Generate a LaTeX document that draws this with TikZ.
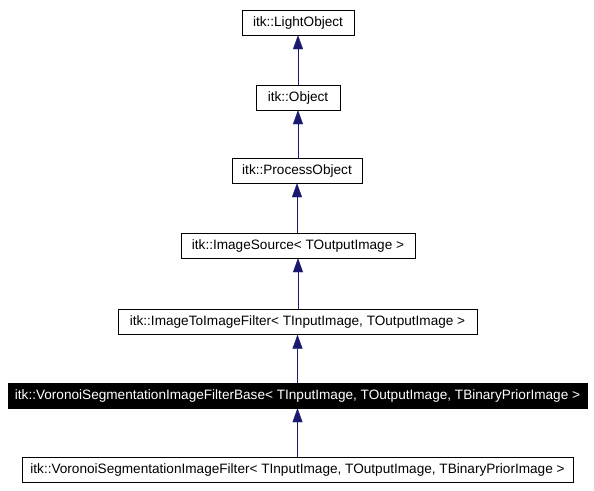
\documentclass[tikz,border=0pt]{standalone}
\usepackage{fontspec}
\setmainfont{Liberation Sans}
\usepackage{tikz}
\usetikzlibrary{arrows.meta}
\definecolor{edgeblue}{RGB}{25,25,112}

\begin{document}
\begin{tikzpicture}[x=1pt,y=-1pt,
  every node/.style={font=\fontsize{13.6}{15}\selectfont},
  cls/.style={rectangle,draw,fill=white,minimum height=25pt,inner sep=0pt},
  cur/.style={rectangle,draw,fill=black,text=white,minimum height=25pt,inner sep=0pt},
  inh/.style={draw=edgeblue,-{Triangle[length=14pt,width=10pt,fill=edgeblue]}}
]
  \useasboundingbox (0,0) rectangle (594,490);
  \node[cls,minimum width=112pt] (light) at (298,22.5) {itk::LightObject};
  \node[cls,minimum width=84pt] (obj) at (298,97.5) {itk::Object};
  \node[cls,minimum width=130pt] (proc) at (297,170.5) {itk::ProcessObject};
  \node[cls,minimum width=234pt] (src) at (298,245.5) {itk::ImageSource< TOutputImage >};
  \node[cls,minimum width=359pt] (i2i) at (297.5,322) {itk::ImageToImageFilter< TInputImage, TOutputImage >};
  \node[cur,minimum width=579pt] (base) at (297.5,395.5) {itk::VoronoiSegmentationImageFilterBase< TInputImage, TOutputImage, TBinaryPriorImage >};
  \node[cls,minimum width=551pt] (filt) at (297.5,469.5) {itk::VoronoiSegmentationImageFilter< TInputImage, TOutputImage, TBinaryPriorImage >};
  \draw[inh] (obj.north -| light) -- (light.south);
  \draw[inh] (proc.north -| obj) -- (obj.south);
  \draw[inh] (src.north -| proc) -- (proc.south);
  \draw[inh] (i2i.north -| src) -- (src.south);
  \draw[inh] (base.north -| i2i) -- (i2i.south);
  \draw[inh] (filt.north -| base) -- (base.south);
\end{tikzpicture}
\end{document}
